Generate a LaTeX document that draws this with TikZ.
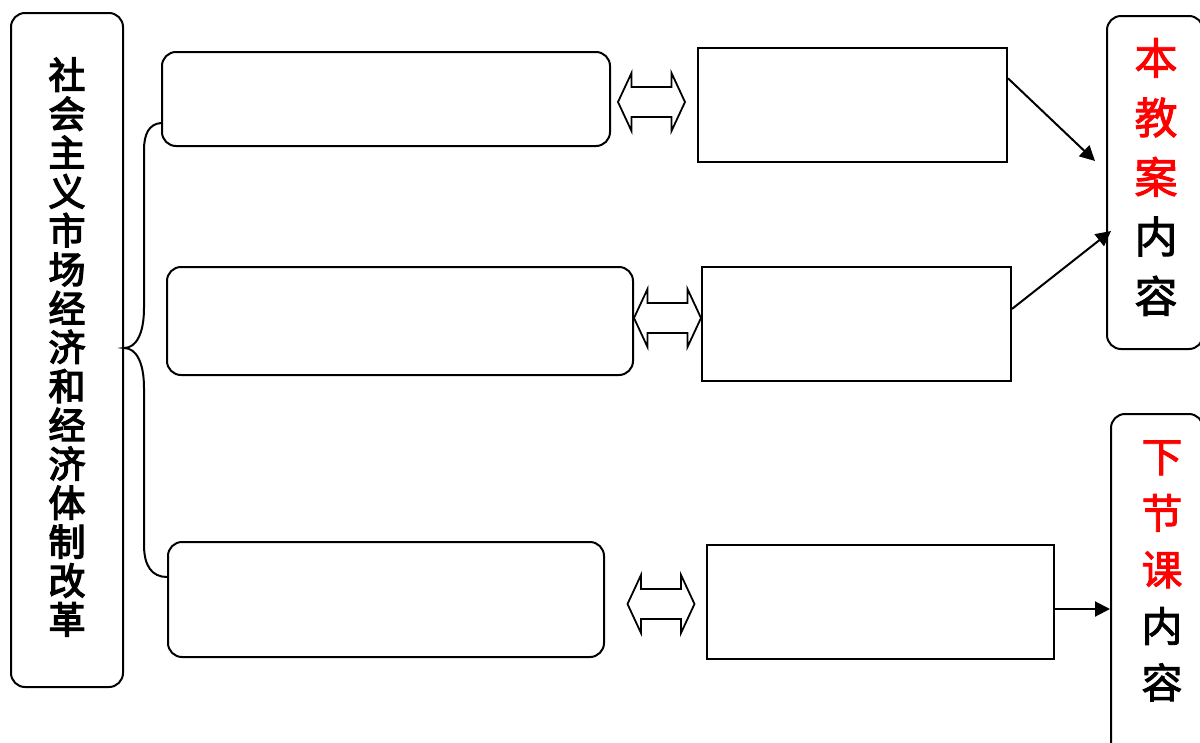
\documentclass[tikz,border=0pt]{standalone}
\usepackage{fontspec}
\newfontfamily\cjkm[FakeBold=2.2]{Noto Sans CJK SC}
\newfontfamily\cjkl[FakeBold=3.6]{Noto Sans CJK SC}
\usetikzlibrary{arrows.meta,calc}
\tikzset{
  rbox/.style={draw, line width=2pt, rounded corners=14pt, inner sep=0pt},
  sbox/.style={draw, line width=2pt, inner sep=0pt},
  conn/.style={line width=2pt, -{Triangle[length=15pt,width=15pt]}},
  brace/.style={line width=2pt},
  dbl/.style={draw, line width=1.8pt, fill=white, line join=miter},
  pics/dblarrow/.style={code={
    \path[dbl] (-33.5,0) -- (-20,-29) -- (-20,-15) -- (20,-15) -- (20,-29) -- (33.5,0)
      -- (20,29) -- (20,15) -- (-20,15) -- (-20,29) -- cycle;}}
}
\begin{document}
\begin{tikzpicture}[x=1pt,y=-1pt]
\clip (0,0) rectangle (1200,742);
\fill[white] (0,0) rectangle (1200,742);
% left box
\node[rbox, minimum width=112pt, minimum height=674pt] (L) at (67,350) {};
\node[align=center, font=\cjkl\fontsize{37}{38.9}\selectfont] (Lt) at (67,347)
  {社\\会\\主\\义\\市\\场\\经\\济\\和\\经\\济\\体\\制\\改\\革};
% middle rounded boxes
\node[rbox, minimum width=448pt, minimum height=94pt] (b1) at (386,99) {};
\node[rbox, minimum width=466pt, minimum height=108pt] (b2) at (400,321) {};
\node[rbox, minimum width=436pt, minimum height=115pt] (b3) at (386,599.5) {};
% right rectangles
\node[sbox, minimum width=309pt, minimum height=114pt] (r1) at (852.5,105) {};
\node[sbox, minimum width=309pt, minimum height=114pt] (r2) at (856.5,324) {};
\node[sbox, minimum width=347pt, minimum height=114pt] (r3) at (880.5,602) {};
% double arrows
\pic at (651.5,102) {dblarrow};
\pic at (667.5,318) {dblarrow};
\pic at (661,604) {dblarrow};
% right rounded boxes
\node[rbox, minimum width=96pt, minimum height=333pt] (R1) at (1155,182.5) {};
\node[rbox, minimum width=92pt, minimum height=345pt] (R2) at (1157,586.5) {};
\node[align=center, font=\cjkm\fontsize{43}{59.5}\selectfont] (R1t) at (1156,177)
  {\textcolor{red}{本}\\\textcolor{red}{教}\\\textcolor{red}{案}\\内\\容};
\node[align=center, font=\cjkm\fontsize{41}{56.5}\selectfont] (R2t) at (1162,571)
  {\textcolor{red}{下}\\\textcolor{red}{节}\\\textcolor{red}{课}\\内\\容};
% brace
\coordinate (btop) at (b1.west |- 0,123);
\coordinate (bbot) at (b3.west |- 0,577);
\coordinate (btip) at (L.east |- 0,348);
\draw[brace] (btop) .. controls (149,124) and (144,134) .. (144,150) -- (144,308)
  .. controls (144,334) and (136,348) .. (btip)
  .. controls (136,348) and (144,362) .. (144,388) -- (144,545)
  .. controls (144,566) and (152,577) .. (bbot);
% connectors
\coordinate (e1) at (1095,161);
\coordinate (e2) at (1111,231);
\coordinate (e3) at (R2.west |- 0,609);
\draw[conn] ($(r1.north east)!0.27!(r1.south east)$) -- (e1);
\draw[conn] ($(r2.north east)!0.37!(r2.south east)$) -- (e2);
\draw[conn] (r3.east |- 0,609) -- (e3);
\end{tikzpicture}
\end{document}
